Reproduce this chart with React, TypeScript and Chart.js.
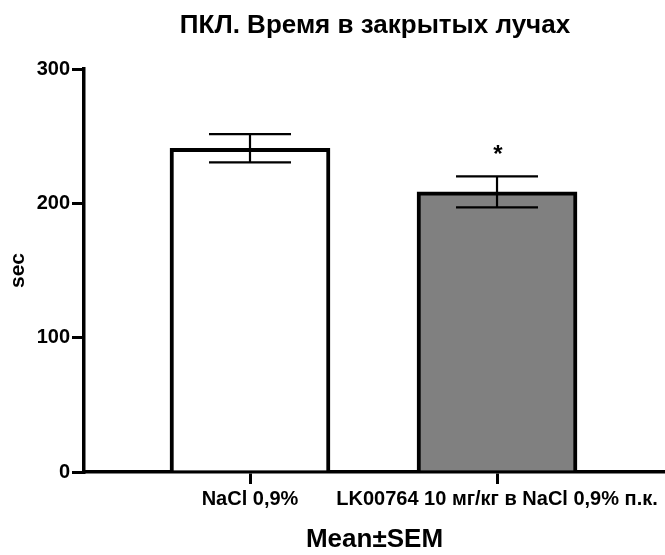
import React, { useEffect, useRef } from "react";
import { Chart, registerables } from "chart.js";

Chart.register(...registerables);

const categories: string[] = ["NaCl 0,9%", "LK00764 10 мг/кг в NaCl 0,9% п.к."];
const means: number[] = [241, 208.5];
const sems: number[] = [10.5, 11.5];
const fills: string[] = ["#ffffff", "#808080"];
const marks: string[] = ["", "*"];
const yTicks: number[] = [0, 100, 200, 300];

const TITLE = "ПКЛ. Время в закрытых лучах";
const Y_TITLE = "sec";
const X_TITLE = "Mean±SEM";

const FONT = "'Liberation Sans', Arial, sans-serif";

const titlePlugin = {
  id: "customTitle",
  afterDraw(chart: any) {
    const { ctx } = chart;
    ctx.save();
    ctx.fillStyle = "#000";
    ctx.font = `bold 26px ${FONT}`;
    ctx.textAlign = "center";
    ctx.textBaseline = "alphabetic";
    ctx.fillText(TITLE, 375, 33);
    ctx.restore();
  },
};

const errorBarPlugin = {
  id: "errorBars",
  afterDatasetsDraw(chart: any) {
    const { ctx, scales } = chart;
    const xs = scales.x;
    const ys = scales.y;
    ctx.save();
    ctx.strokeStyle = "#000";
    ctx.lineWidth = 2.2;
    means.forEach((m, i) => {
      const cx = xs.getPixelForValue(i);
      const yTop = ys.getPixelForValue(m + sems[i]);
      const yBot = ys.getPixelForValue(m - sems[i]);
      const half = 41;
      ctx.beginPath();
      ctx.moveTo(cx, yTop);
      ctx.lineTo(cx, yBot);
      ctx.moveTo(cx - half, yTop);
      ctx.lineTo(cx + half, yTop);
      ctx.moveTo(cx - half, yBot);
      ctx.lineTo(cx + half, yBot);
      ctx.stroke();
      if (marks[i]) {
        ctx.fillStyle = "#000";
        ctx.font = `bold 24px ${FONT}`;
        ctx.textAlign = "center";
        ctx.textBaseline = "middle";
        ctx.fillText(marks[i], cx + 1, yTop - 21);
      }
    });
    ctx.restore();
  },
};

export default function App() {
  const ref = useRef<HTMLCanvasElement | null>(null);
  useEffect(() => {
    document.body.style.margin = "0";
    const canvas = ref.current!;
    const chart = new Chart(canvas, {
      type: "bar",
      data: {
        datasets: [
          {
            data: means.map((m, i) => ({ x: i, y: m })) as any,
            backgroundColor: fills,
            borderColor: "#000",
            borderWidth: 4,
            barThickness: 160,
          } as any,
        ],
      },
      options: {
        responsive: false,
        animation: false,
        devicePixelRatio: 1,
        layout: { padding: { left: 0, right: 0, top: 69, bottom: 0 } },
        plugins: {
          legend: { display: false },
          tooltip: { enabled: false },
          title: { display: false },
        },
        scales: {
          x: {
            type: "linear",
            min: -0.672,
            max: 1.68,
            offset: false,
            afterBuildTicks: (scale: any) => {
              scale.ticks = categories.map((_, i) => ({ value: i }));
            },
            afterFit: (scale: any) => {
              scale.height = 83;
            },
            ticks: {
              color: "#000",
              font: { family: FONT, size: 20, weight: "bold" },
              padding: 3,
              maxRotation: 0,
              autoSkip: false,
              callback: (v: any) => categories[Math.round(Number(v))] ?? "",
            },
            grid: {
              display: true,
              drawOnChartArea: false,
              drawTicks: true,
              tickLength: 12,
              color: "#000",
              lineWidth: 3,
              offset: false,
            },
            border: { display: true, color: "#000", width: 3.5 },
            title: {
              display: true,
              text: X_TITLE,
              color: "#000",
              font: { family: FONT, size: 26, weight: "bold" },
              padding: { top: 17, bottom: 0 },
            },
          },
          y: {
            min: 0,
            max: 300,
            afterBuildTicks: (scale: any) => {
              scale.ticks = yTicks.map((v) => ({ value: v }));
            },
            afterFit: (scale: any) => {
              scale.width = 84;
            },
            ticks: {
              color: "#000",
              font: { family: FONT, size: 20, weight: "bold" },
              padding: 2,
            },
            grid: {
              display: true,
              drawOnChartArea: false,
              drawTicks: true,
              tickLength: 12,
              color: "#000",
              lineWidth: 3,
            },
            border: { display: true, color: "#000", width: 3.5 },
            title: {
              display: true,
              text: Y_TITLE,
              color: "#000",
              font: { family: FONT, size: 21, weight: "bold" },
              padding: { top: 6, bottom: 0 },
            },
          },
        },
      } as any,
      plugins: [errorBarPlugin, titlePlugin],
    });
    return () => chart.destroy();
  }, []);
  return (
    <div style={{ width: 665, height: 555 }}>
      <canvas ref={ref} width={665} height={555} style={{ display: "block" }} />
    </div>
  );
}
